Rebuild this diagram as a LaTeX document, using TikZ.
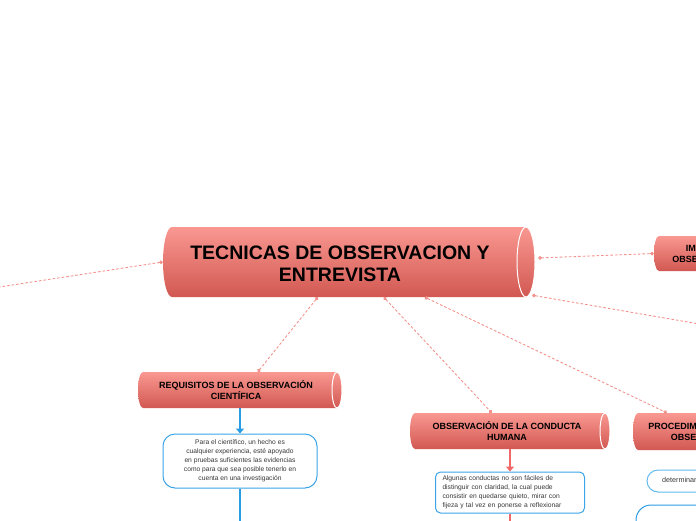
\documentclass[tikz,border=0pt]{standalone}
\usepackage{fontspec}
\setmainfont{Liberation Sans}
\usetikzlibrary{arrows.meta,calc}
\definecolor{cylTop}{RGB}{249,152,145}
\definecolor{cylMid}{RGB}{230,114,108}
\definecolor{cylBot}{RGB}{210,88,82}
\definecolor{dashc}{RGB}{243,146,140}
\definecolor{blueA}{RGB}{41,157,227}
\definecolor{blueB}{RGB}{59,165,232}
\definecolor{blueC}{RGB}{96,184,238}
\definecolor{redA}{RGB}{240,104,104}
\definecolor{txtg}{RGB}{55,55,55}
\tikzset{
  cylfill/.style={top color=cylTop, middle color=cylMid, bottom color=cylBot},
  cyltext/.style={font=\bfseries\fontsize{9}{11.5}\selectfont, align=center, inner sep=0pt, text=black},
  dashlink/.style={draw=dashc, line width=0.9pt, dash pattern=on 2.6pt off 2pt,
     {Circle[length=3.6pt]}-{Circle[length=3.6pt]}},
  bluearrow/.style={draw=blueA, line width=1.6pt, -{Triangle[length=5pt,width=8pt]}},
  redarrow/.style={draw=redA, line width=1.6pt, -{Triangle[length=5pt,width=8pt]}},
  smalltxt/.style={font=\fontsize{6.7}{9}\selectfont, text=txtg},
}
\newcommand\cylbox[6]{%
  \pgfmathsetmacro\cylry{(#5-#3)/2}%
  \shade[cylfill] (#2+#6,#3) -- (#4-#6,#3)
     arc[start angle=90,end angle=-90,x radius=#6pt,y radius=\cylry pt]
     -- (#2+#6,#5)
     arc[start angle=270,end angle=90,x radius=#6pt,y radius=\cylry pt] -- cycle;
  \draw[white, line width=1pt] (#4-#6,{(#3+#5)/2}) ellipse[x radius=#6pt, y radius=\cylry pt];
  \node[inner sep=0pt, minimum width={(#4-#2)*1pt}, minimum height={(#5-#3)*1pt}] (#1)
     at ({(#2+#4)/2},{(#3+#5)/2}) {};
}
\begin{document}
\begin{tikzpicture}[x=1pt,y=-1pt]
\useasboundingbox (0,0) rectangle (696,520);
\clip (0,0) rectangle (696,520);

% cylinders
\cylbox{main}{163}{227}{535}{297}{9}
\node[font=\bfseries\fontsize{19.5}{22}\selectfont, align=center, inner sep=0pt] (mainlbl) at (340,264)
  {TECNICAS DE OBSERVACION Y\\ENTREVISTA};

\cylbox{req}{138}{372}{342}{408}{5}
\node[cyltext] (reqlbl) at (236,390) {REQUISITOS DE LA OBSERVACIÓN\\CIENTÍFICA};

\cylbox{obs}{410}{413}{610}{449}{5}
\node[cyltext] (obslbl) at (507,431) {OBSERVACIÓN DE LA CONDUCTA\\HUMANA};

\cylbox{proc}{633}{413}{780}{450}{5}
\node[cyltext] (proclbl) at (704,432) {PROCEDIMIENTOS DE LA\\OBSERVACIÓN};

\cylbox{imp}{654}{236}{821}{271}{5}
\node[cyltext] (implbl) at (732,254) {IMPORTANCIA DE LA\\OBSERVACIÓN CIENTÍFICA};

% off-canvas ends
\coordinate (offL) at (-40,293);
\coordinate (offR) at (740,331);

% dashed links
\draw[dashlink] (main.west) -- (offL);
\draw[dashlink] ([xshift=155pt]main.south west) -- ([xshift=120pt]req.north west);
\draw[dashlink] ([xshift=221pt]main.south west) -- ([xshift=82pt]obs.north west);
\draw[dashlink] ([xshift=262pt]main.south west) -- ([xshift=34pt]proc.north west);
\draw[dashlink] ([xshift=-3pt,yshift=2pt]main.south east) -- (offR);
\draw[dashlink] ([xshift=3pt,yshift=4pt]main.east) -- (imp.west);

% detail boxes
\node[draw=blueB, line width=1pt, rounded corners=12pt, fill=white,
      minimum width=154pt, minimum height=54pt, align=center, smalltxt, inner sep=2pt] (b1) at (240,461)
  {Para el científico, un hecho es\\cualquier experiencia, esté apoyado\\en pruebas suficientes las evidencias\\como para que sea posible tenerlo en\\cuenta en una investigación};

\node[draw=blueB, line width=1pt, rounded corners=5pt, fill=white,
      minimum width=149pt, minimum height=41pt, text width=135pt, inner xsep=7pt, align=left, smalltxt] (b2) at (510,492.5)
  {Algunas conductas no son fáciles de\\distinguir con claridad, la cual puede\\consistir en quedarse quieto, mirar con\\fijeza y tal vez en ponerse a reflexionar};

\draw[draw=blueC, line width=1pt, rounded corners=11pt] (647,470) rectangle (800,492);
\node[anchor=west, font=\fontsize{7.2}{8}\selectfont, text=txtg, inner sep=0pt] (b3) at (662,481)
  {determinar el objeto de la observación};

\draw[draw=blueA, line width=1pt, rounded corners=15pt] (636,505) rectangle (800,570);

\coordinate (downB) at (240,530);
\coordinate (downR) at (510,530);

% arrows
\draw[bluearrow] (req.south) -- (b1.north);
\draw[redarrow] (obs.south) -- (b2.north);
\draw[draw=blueA, line width=1.6pt] (b1.south) -- (downB);
\draw[draw=redA, line width=1.6pt] (b2.south) -- (downR);
\end{tikzpicture}
\end{document}
